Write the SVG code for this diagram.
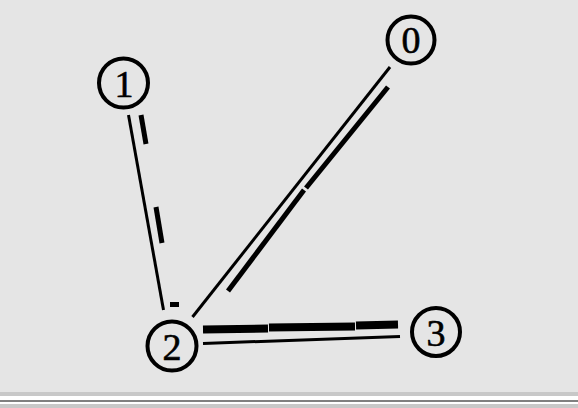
<svg xmlns="http://www.w3.org/2000/svg" width="578" height="408" viewBox="0 0 578 408">
<style>
.bg{fill:#e5e5e5}
.node circle{fill:none;stroke:#000;stroke-width:4}
.node text{font-family:"Liberation Serif","Times New Roman",serif;font-size:38px;fill:#000;stroke:#000;stroke-width:0.6;text-anchor:middle}
.thin{stroke:#000;stroke-width:3;fill:none}
.bar{stroke:#000;stroke-width:5;fill:none}
.wide{stroke:#000;stroke-width:8;fill:none}
</style>
<rect class="bg" x="0" y="0" width="578" height="408"/>
<rect x="0" y="392" width="578" height="4" fill="#c8c8c8"/>
<rect x="0" y="396" width="578" height="4" fill="#ffffff"/>
<rect x="0" y="400" width="578" height="2" fill="#808080"/>
<rect x="0" y="402" width="578" height="2" fill="#ffffff"/>
<rect x="0" y="404" width="578" height="4" fill="#c8c8c8"/>
<g id="connectors">
<g id="edge-1-2">
<line class="thin" x1="128.5" y1="115" x2="163.5" y2="310"/>
<line class="bar" x1="141" y1="115" x2="146" y2="144"/>
<line class="bar" x1="156" y1="207" x2="162" y2="243"/>
<rect x="170" y="302" width="9" height="5" fill="#000"/>
</g>
<g id="edge-0-2">
<line class="thin" x1="390" y1="67" x2="192.5" y2="317"/>
<line class="bar" x1="388" y1="87" x2="306" y2="188"/>
<line class="bar" x1="304" y1="190" x2="228" y2="291"/>
</g>
<g id="edge-2-3">
<line class="thin" x1="203" y1="343.5" x2="400" y2="336.5" stroke-width="3.5"/>
<line class="wide" x1="203" y1="329.5" x2="268" y2="328.5"/>
<line class="wide" x1="269" y1="327.5" x2="355" y2="326.5"/>
<line class="wide" x1="356" y1="325.5" x2="398" y2="324.5"/>
</g>
</g>
<g id="node-0" class="node"><circle cx="411" cy="40" r="23.5"/><text x="411" y="53">0</text></g>
<g id="node-1" class="node"><circle cx="123.5" cy="83" r="24.5"/><text x="124" y="97">1</text></g>
<g id="node-2" class="node"><circle cx="172" cy="346" r="24.5"/><text x="172" y="360">2</text></g>
<g id="node-3" class="node"><circle cx="436" cy="332" r="24"/><text x="436" y="346">3</text></g>
</svg>
